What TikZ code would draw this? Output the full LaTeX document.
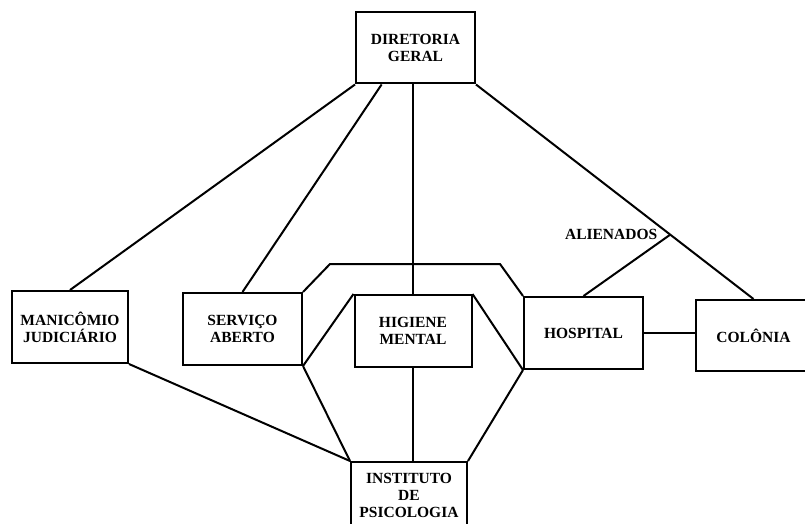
\documentclass[tikz,border=0pt]{standalone}
\usepackage{fontspec}
\setmainfont{Liberation Serif}
\usetikzlibrary{calc}

\begin{document}
\begin{tikzpicture}[x=1pt,y=-1pt,line width=2pt,
  box/.style={draw,rectangle,inner sep=0pt,align=center,
    font=\fontsize{15.5}{17}\selectfont\bfseries},
  lbl/.style={inner sep=0pt,font=\fontsize{15.5}{17}\selectfont\bfseries}]
\useasboundingbox (0,0) rectangle (805,524);
\node[box,minimum width=119,minimum height=71] (dg) at (415.5,48) {DIRETORIA\\GERAL};
\node[box,minimum width=116,minimum height=72] (mj) at (70,327) {MANIC\^OMIO\\JUDICI\'ARIO};
\node[box,minimum width=119,minimum height=72] (sa) at (242.5,329) {SERVI\c{C}O\\ABERTO};
\node[box,minimum width=117,minimum height=72] (hm) at (413,331) {HIGIENE\\MENTAL};
\node[box,minimum width=119,minimum height=72] (hosp) at (583.5,333) {HOSPITAL};
\node[box,minimum width=115,minimum height=71] (col) at (753.5,335.5) {COL\^ONIA};
\node[box,minimum width=116,minimum height=66] (inst) at (409,495) {INSTITUTO\\DE\\PSICOLOGIA};

\coordinate (al) at ($(dg.south east)!0.7!(col.north)$);
\coordinate (p1) at (330,264);
\coordinate (p2) at (500,264);
\node[lbl,anchor=east] (alien) at ($(al)+(-12,0)$) {ALIENADOS};

\draw (dg.south west) -- (mj.north);
\draw ($(dg.south west)!0.22!(dg.south east)$) -- (sa.north);
\draw (hm.north |- dg.south) -- (hm.north);
\draw (dg.south east) -- (col.north);
\draw (hosp.north) -- (al);
\draw (sa.north east) -- (p1) -- (p2) -- (hosp.north west);
\draw (hm.north west) -- (sa.south east);
\draw (hm.north east) -- (hosp.south west);
\draw (sa.south east) -- (inst.north west);
\draw (mj.south east) -- (inst.north west);
\draw (hosp.south west) -- (inst.north east);
\draw (hm.south) -- (hm.south |- inst.north);
\draw (hosp.east) -- (hosp.east -| col.west);
\end{tikzpicture}
\end{document}
